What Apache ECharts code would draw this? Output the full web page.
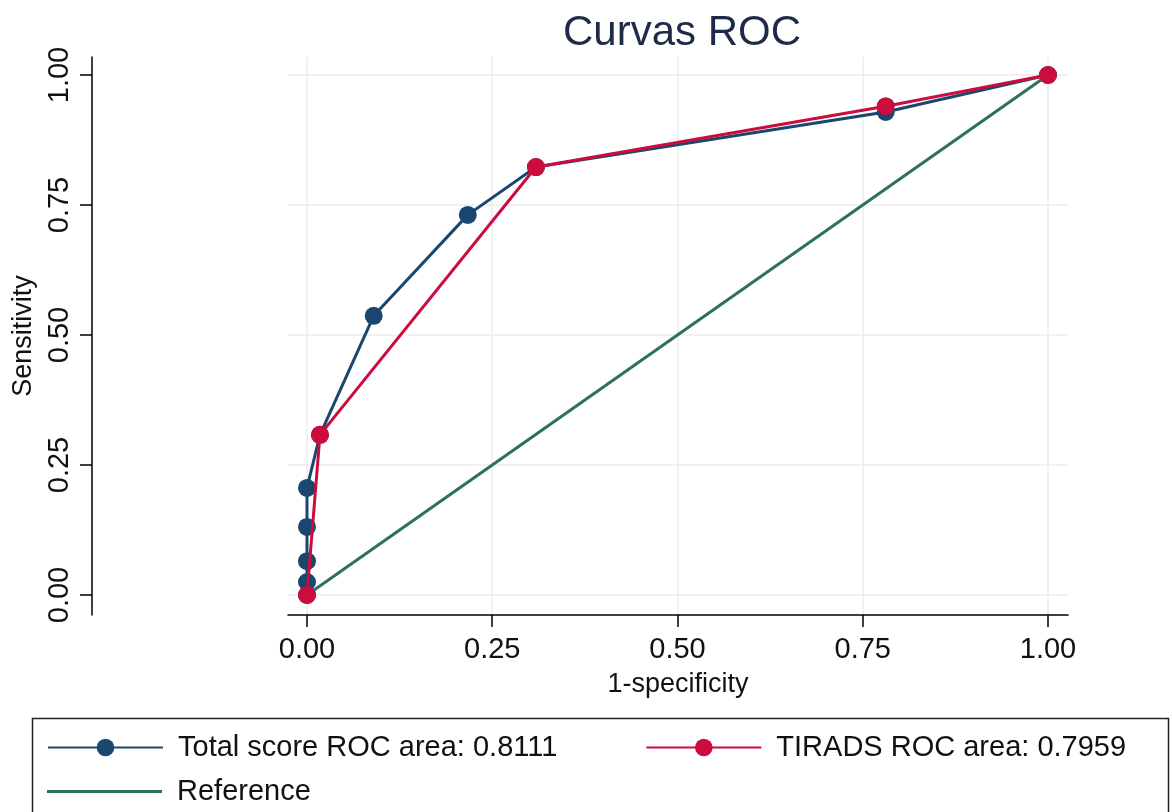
<!DOCTYPE html>
<html>
<head>
<meta charset="utf-8">
<title>Curvas ROC</title>
<script src="https://cdn.jsdelivr.net/npm/echarts@6/dist/echarts.min.js"></script>
<style>
  html, body { margin: 0; padding: 0; background: #fff; }
  #main { width: 1172px; height: 812px; }
</style>
</head>
<body>
<div id="main"></div>
<script>
// 1-specificity / sensitivity pairs
var totalX = [0, 0, 0, 0, 0, 0.0175, 0.09, 0.217, 0.309, 0.781, 1]
var totalY = [0, 0.025, 0.065, 0.131, 0.206, 0.308, 0.537, 0.731, 0.823, 0.929, 1]
var tiradsX = [0, 0.0175, 0.309, 0.781, 1]
var tiradsY = [0, 0.308, 0.823, 0.94, 1]
var refX = [0, 1]
var refY = [0, 1]
var ticks = [0, 0.25, 0.5, 0.75, 1]
var seriesNames = ['Total score ROC area: 0.8111', 'TIRADS ROC area: 0.7959', 'Reference']

function pairs(xs, ys) {
  return xs.map(function (x, i) { return [x, ys[i]] })
}

var font = 'Liberation Sans, Arial, sans-serif'
var chart = echarts.init(document.getElementById('main'))

var option = {
  backgroundColor: '#fff',
  animation: false,
  textStyle: { fontFamily: font },
  title: {
    text: 'Curvas ROC',
    left: 677,
    textAlign: 'center',
    top: 7,
    textStyle: { fontSize: 42, fontWeight: 'normal', color: '#1e2b47', fontFamily: font }
  },
  grid: {
    left: 288,
    right: 104,
    top: 57,
    bottom: 197
  },
  xAxis: {
    type: 'value',
    min: -0.02564,
    max: 1.02699,
    name: '1-specificity',
    nameLocation: 'middle',
    nameGap: 56,
    nameTextStyle: { fontSize: 27, color: '#111', fontFamily: font },
    axisLine: { show: true, onZero: false, lineStyle: { color: '#000', width: 1.5 } },
    axisTick: { show: true, length: 12, customValues: ticks, lineStyle: { color: '#000', width: 1.5 } },
    axisLabel: {
      customValues: ticks,
      margin: 20,
      fontSize: 29,
      color: '#111',
      fontFamily: font,
      formatter: function (v) { return v.toFixed(2) }
    },
    splitLine: { show: true, lineStyle: { color: '#ececec', width: 1.5 } }
  },
  yAxis: {
    type: 'value',
    min: -0.03846,
    max: 1.03462,
    offset: 196,
    name: 'Sensitivity',
    nameLocation: 'middle',
    nameGap: 51,
    nameTextStyle: { fontSize: 27, color: '#111', fontFamily: font },
    axisLine: { show: true, onZero: false, lineStyle: { color: '#000', width: 1.5 } },
    axisTick: { show: true, length: 12, customValues: ticks, lineStyle: { color: '#000', width: 1.5 } },
    axisLabel: {
      customValues: ticks,
      rotate: 90,
      margin: 18,
      fontSize: 29,
      color: '#111',
      fontFamily: font,
      formatter: function (v) { return v.toFixed(2) }
    },
    splitLine: { show: true, lineStyle: { color: '#ececec', width: 1.5 } }
  },
  legend: [
    {
      data: [seriesNames[0], seriesNames[1]],
      left: 42,
      top: 728,
      itemWidth: 115,
      itemHeight: 22,
      itemGap: 88,
      textStyle: { fontSize: 29, color: '#111', fontFamily: font, padding: [0, 0, 0, 10] }
    },
    {
      data: [{ name: seriesNames[2], icon: 'rect' }],
      left: 42,
      top: 772,
      itemWidth: 115,
      itemHeight: 3,
      textStyle: { fontSize: 29, color: '#111', fontFamily: font, padding: [0, 0, 0, 10] }
    }
  ],
  graphic: [
    {
      type: 'rect',
      left: 30,
      top: 716,
      shape: { width: 1136, height: 120 },
      style: { fill: 'none', stroke: '#222', lineWidth: 1.5 },
      silent: true
    }
  ],
  series: [
    {
      name: seriesNames[2],
      type: 'line',
      data: pairs(refX, refY),
      showSymbol: false,
      symbol: 'none',
      lineStyle: { color: '#2e7060', width: 3 },
      itemStyle: { color: '#2e7060' },
      z: 2
    },
    {
      name: seriesNames[0],
      type: 'line',
      data: pairs(totalX, totalY),
      symbol: 'circle',
      symbolSize: 18,
      lineStyle: { color: '#1a476f', width: 3 },
      itemStyle: { color: '#1a476f' },
      z: 3
    },
    {
      name: seriesNames[1],
      type: 'line',
      data: pairs(tiradsX, tiradsY),
      symbol: 'circle',
      symbolSize: 18,
      lineStyle: { color: '#cc0c3c', width: 3 },
      itemStyle: { color: '#cc0c3c' },
      z: 4
    }
  ]
}

chart.setOption(option)
</script>
</body>
</html>
